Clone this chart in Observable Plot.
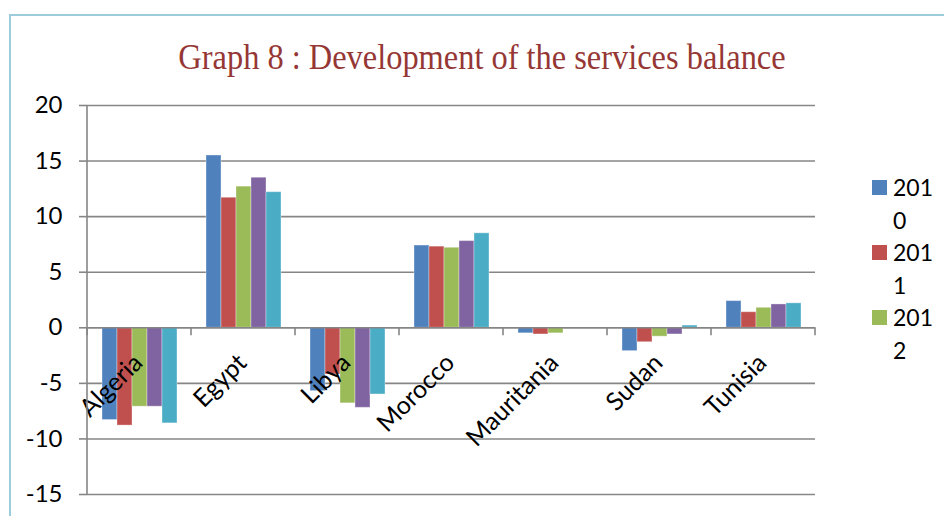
<!DOCTYPE html>
<html>
<head>
<meta charset="utf-8">
<script src="https://cdn.jsdelivr.net/npm/d3@7"></script>
<script src="https://cdn.jsdelivr.net/npm/@observablehq/plot@0.6"></script>
<style>
  html, body { margin: 0; padding: 0; background: #fff; }
  #wrap { position: relative; width: 944px; height: 516px; overflow: hidden; font-family: Lato, "Open Sans", sans-serif; }
  #frame { position: absolute; left: 9px; top: 14px; width: 960px; height: 520px; border-top: 2px solid #9ccbdb; border-left: 2px solid #9ccbdb; }
  #title { position: absolute; left: 10px; width: 944px; top: 36px; text-align: center; font-family: "Liberation Serif", "DejaVu Serif", serif; font-size: 36px; color: #953735; white-space: nowrap; transform: scaleX(0.9); transform-origin: 472px 0; }
  #chart { position: absolute; left: 0; top: 0; }
  #legend { position: absolute; left: 872px; top: 171px; font-size: 23px; line-height: 32.5px; color: #000; }
  .item { position: relative; padding-left: 21px; width: 50px; }
  .sw { position: absolute; left: 0; top: 9px; width: 15px; height: 15px; }
</style>
</head>
<body>
<div id="wrap">
  <div id="frame"></div>
  <div id="chart"></div>
  <div id="title">Graph 8 : Development of the services balance</div>
  <div id="legend"></div>
</div>
<script>
const countries = ["Algeria", "Egypt", "Libya", "Morocco", "Mauritania", "Sudan", "Tunisia"];
const years = ["2010", "2011", "2012", "2013", "2014"];
const v2010 = [-8.3, 15.5, -5.7, 7.4, -0.5, -2.1, 2.4];
const v2011 = [-8.8, 11.7, -4.2, 7.3, -0.6, -1.3, 1.4];
const v2012 = [-7.1, 12.7, -6.8, 7.2, -0.5, -0.8, 1.8];
const v2013 = [-7.1, 13.5, -7.2, 7.8, 0, -0.6, 2.1];
const v2014 = [-8.6, 12.2, -6.0, 8.5, 0, 0.2, 2.2];
const yTicks = [-15, -10, -5, 0, 5, 10, 15, 20];
const colors = ["#4f81bd", "#c0504d", "#9bbb59", "#8064a2", "#4bacc6"];
const legendYears = ["2010", "2011", "2012"];

const series = [v2010, v2011, v2012, v2013, v2014];
const data = [];
countries.forEach((c, i) => years.forEach((y, j) => data.push({country: c, year: y, value: series[j][i]})));

const gray = "#868686";
const plot = Plot.plot({
  width: 944,
  height: 516,
  marginLeft: 87,
  marginRight: 129,
  marginTop: 105,
  marginBottom: 22,
  style: {fontFamily: "Lato, 'Open Sans', sans-serif", fontSize: "24px", background: "transparent", color: "#000"},
  fx: {domain: countries, padding: 0, axis: null},
  x: {domain: years, paddingInner: 0, paddingOuter: 0.79, axis: null},
  y: {domain: [-15, 20], axis: null},
  color: {domain: years, range: colors},
  marks: [
    Plot.ruleY(yTicks, {stroke: gray, strokeWidth: 1.6}),
    Plot.barY(data, {fx: "country", x: "year", y: "value", fill: "year", stroke: "#fff", strokeOpacity: 0.35, strokeWidth: 1}),
    Plot.ruleY([0], {stroke: gray, strokeWidth: 1.6}),
    Plot.axisY({ticks: yTicks, tickFormat: d => String(d), tickSize: 8, tickPadding: 17, stroke: gray, strokeWidth: 1.6, fill: "#000", fontSize: 24, label: null}),
    Plot.text(countries, {fx: d => d, y: () => 0, text: d => d, rotate: -45, textAnchor: "end", lineAnchor: "top", dx: -8, dy: 24, fontSize: 25, fill: "#000"})
  ]
});
document.getElementById("chart").appendChild(plot);

// axis line and category boundary ticks, positioned through the plot's own scales
const fx = plot.scale("fx"), ys = plot.scale("y");
const svg = d3.select(plot);
const left = fx.apply(countries[0]);
const step = fx.apply(countries[1]) - fx.apply(countries[0]);
svg.append("line").attr("x1", left).attr("x2", left).attr("y1", ys.apply(20)).attr("y2", ys.apply(-15))
  .attr("stroke", gray).attr("stroke-width", 1.6);
const bounds = countries.map(c => fx.apply(c)).concat([fx.apply(countries[countries.length - 1]) + step]);
svg.selectAll("line.cat").data(bounds).join("line").attr("class", "cat")
  .attr("x1", d => d).attr("x2", d => d).attr("y1", ys.apply(0)).attr("y2", ys.apply(0) + 8)
  .attr("stroke", gray).attr("stroke-width", 1.6);

const lg = document.getElementById("legend");
legendYears.forEach((y, i) => {
  const it = document.createElement("div");
  it.className = "item";
  it.innerHTML = `<span class="sw" style="background:${colors[i]}"></span>${y.slice(0, 3)}<br>${y.slice(3)}`;
  lg.appendChild(it);
});
</script>
</body>
</html>
